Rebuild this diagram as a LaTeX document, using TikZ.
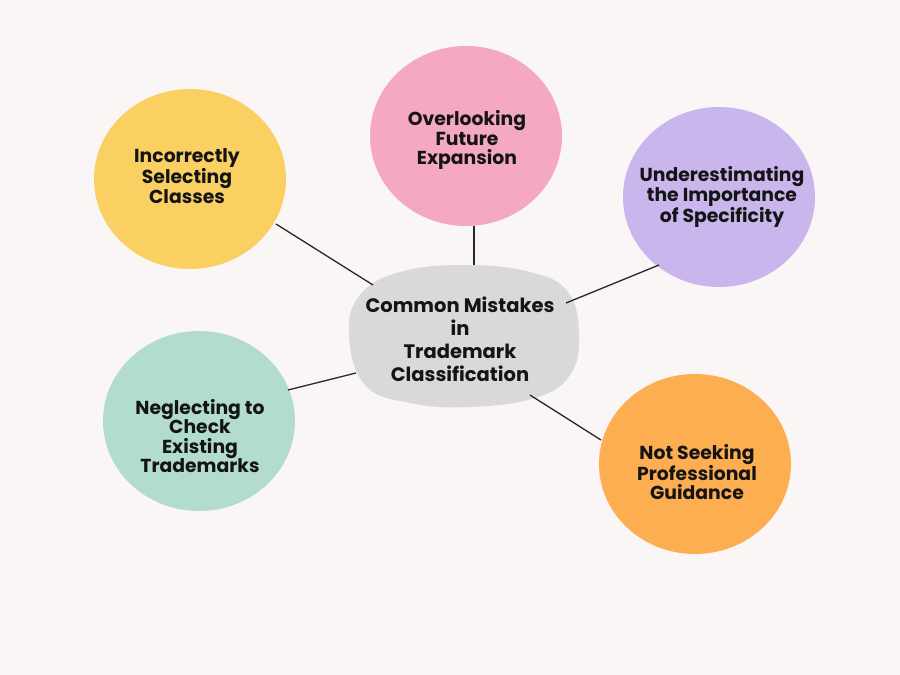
\documentclass[tikz,border=0pt]{standalone}
\usepackage{fontspec}
\setmainfont{Poppins}
\definecolor{bg}{RGB}{251,246,246}
\definecolor{cyel}{RGB}{250,208,99}
\definecolor{cpink}{RGB}{245,168,196}
\definecolor{cpurp}{RGB}{201,182,236}
\definecolor{cgreen}{RGB}{178,221,204}
\definecolor{corange}{RGB}{253,174,80}
\definecolor{cgray}{RGB}{217,217,217}
\begin{document}
\begin{tikzpicture}[x=1pt,y=-1pt,
  lbl/.style={align=center, font=\fontsize{18.8}{19.5}\selectfont\bfseries, text=black!92},
  clbl/.style={align=center, font=\fontsize{19.5}{23}\selectfont\bfseries, text=black!92},
  conn/.style={draw=black!85, line width=1.3pt}]
\useasboundingbox[fill=bg] (0,0) rectangle (900,675);
% bubbles
\fill[cyel] (190,179) ellipse [x radius=96, y radius=90];
\fill[cpink] (466,136) ellipse [x radius=96, y radius=90];
\fill[cpurp] (719,197) ellipse [x radius=96, y radius=90];
\fill[cgreen] (199,421) ellipse [x radius=96, y radius=90];
\fill[corange] (695,464) ellipse [x radius=96, y radius=90];
% center blob
\fill[cgray] plot[smooth cycle, tension=0.7] coordinates
 {(349,335) (360,295) (400,272) (465,265) (530,272) (568,292) (579,335) (570,375) (535,398) (470,407) (410,403) (365,385)};
% connectors
\coordinate (c1a) at (276,224); \coordinate (c1b) at (373,285);
\coordinate (c2a) at (474,226); \coordinate (c2b) at (474,265);
\coordinate (c3a) at (659,265); \coordinate (c3b) at (566,303);
\coordinate (c4a) at (288,390); \coordinate (c4b) at (356,373);
\coordinate (c5a) at (530,395); \coordinate (c5b) at (601,440);
\draw[conn] (c1a) -- (c1b);
\draw[conn] (c2a) -- (c2b);
\draw[conn] (c3a) -- (c3b);
\draw[conn] (c4a) -- (c4b);
\draw[conn] (c5a) -- (c5b);
% labels
\node[clbl] (center) at (460,339) {Common Mistakes\\in\\Trademark\\Classification};
\node[lbl] (n1) at (187,176) {Incorrectly\\Selecting\\Classes};
\node[lbl] (n2) at (467,140) {Overlooking\\Future\\Expansion};
\node[lbl] (n3) at (722,197) {Underestimating\\the Importance\\of Specificity};
\node[lbl] (n4) at (200,436) {Neglecting to\\Check\\Existing\\Trademarks};
\node[lbl] (n5) at (697,472) {Not Seeking\\Professional\\Guidance};
\end{tikzpicture}
\end{document}
